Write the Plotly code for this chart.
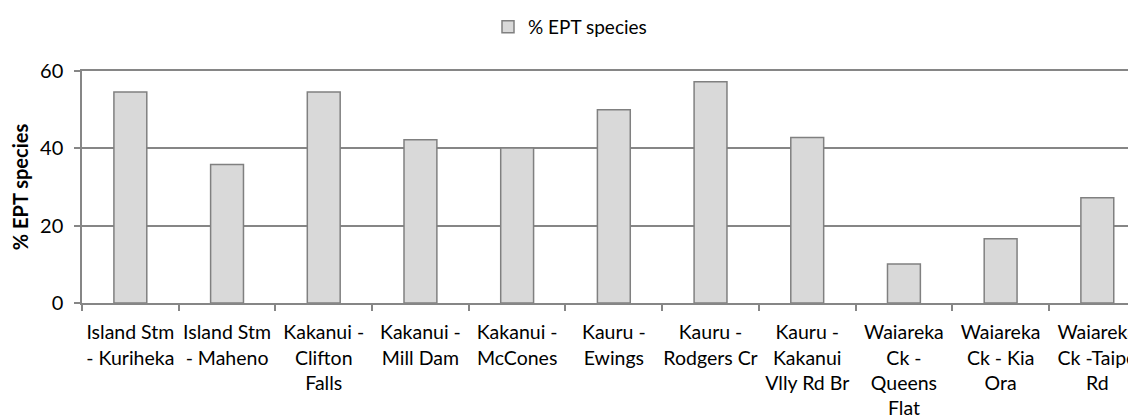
import plotly.graph_objects as go

categories = [
    "Island Stm<br>- Kuriheka",
    "Island Stm<br>- Maheno",
    "Kakanui -<br>Clifton<br>Falls",
    "Kakanui -<br>Mill Dam",
    "Kakanui -<br>McCones",
    "Kauru -<br>Ewings",
    "Kauru -<br>Rodgers Cr",
    "Kauru -<br>Kakanui<br>Vlly Rd Br",
    "Waiareka<br>Ck -<br>Queens<br>Flat",
    "Waiareka<br>Ck - Kia<br>Ora",
    "Waiareka<br>Ck -Taipo<br>Rd",
]
ept_values = [54.6, 35.8, 54.6, 42.2, 40.1, 50.0, 57.2, 42.8, 10.1, 16.6, 27.2]
y_ticks = [0, 20, 40, 60]

FONT = "Lato"
W, H = 1128, 408

fig = go.Figure()
fig.add_trace(go.Bar(
    x=categories,
    y=ept_values,
    name="% EPT species",
    marker=dict(color="#d9d9d9", line=dict(color="#808080", width=1.5)),
))

fig.update_layout(
    width=W,
    height=H,
    margin=dict(l=74, r=0, t=63, b=113, autoexpand=False),
    paper_bgcolor="white",
    plot_bgcolor="white",
    font=dict(family=FONT, size=19, color="#000000"),
    bargap=0.66,
    showlegend=True,
    legend=dict(
        orientation="h",
        xref="container", yref="container",
        x=562 / W, xanchor="center",
        y=1 - 19 / H, yanchor="middle",
        font=dict(family=FONT, size=19),
        itemwidth=30,
    ),
    xaxis=dict(
        type="category",
        range=[-0.5, 10.4],
        showgrid=False,
        showline=True,
        mirror=True,
        linecolor="#868686",
        linewidth=1.5,
        ticks="outside",
        tickson="boundaries",
        ticklen=6,
        tickcolor="#868686",
        tickwidth=1.5,
        tickfont=dict(family=FONT, size=19.5),
        tickangle=0,
        ticklabelstandoff=11,
    ),
    yaxis=dict(
        range=[0, 60],
        tickvals=y_ticks,
        showgrid=True,
        gridcolor="#868686",
        gridwidth=1.5,
        showline=True,
        linecolor="#868686",
        linewidth=1.5,
        ticks="outside",
        ticklen=6,
        tickcolor="#868686",
        tickwidth=1.5,
        tickfont=dict(family=FONT, size=20),
        ticklabelstandoff=7,
        zeroline=False,
        title=dict(text="<b>% EPT species</b>", font=dict(family=FONT, size=20), standoff=12),
    ),
)

fig.write_html("out.html")
